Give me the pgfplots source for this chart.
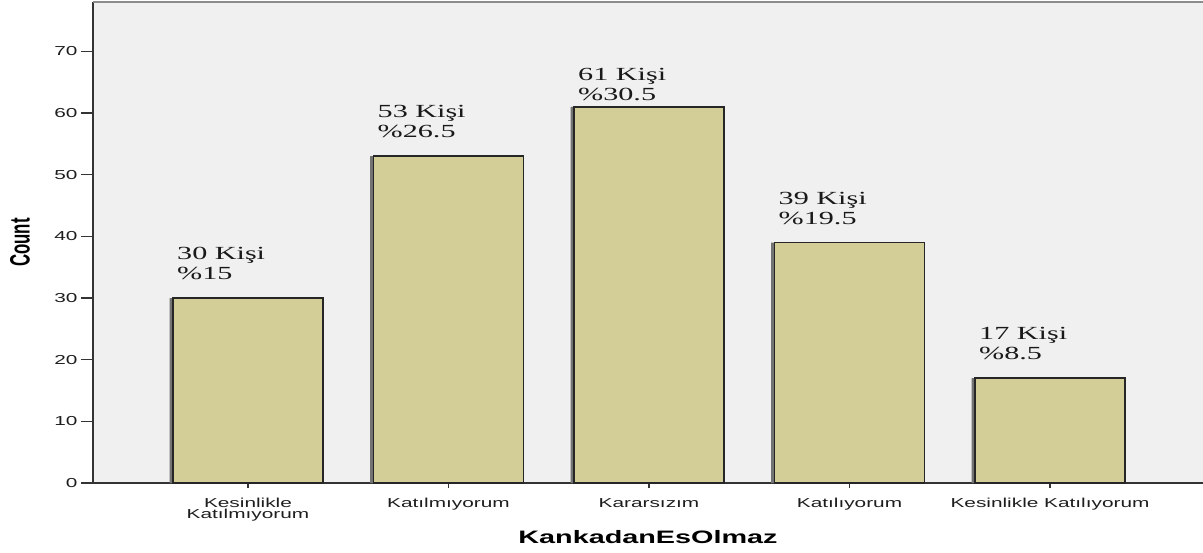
\documentclass[border=0pt]{standalone}
\usepackage{pgfplots}
\pgfplotsset{compat=1.18}
\usepackage{fontspec}
\setmainfont{Liberation Serif}
\newfontfamily\wsans[FakeStretch=1.6]{Liberation Sans}
\newfontfamily\wserif[FakeStretch=1.63]{Liberation Serif}
\newfontfamily\nsans[FakeStretch=0.6]{Liberation Sans}
\definecolor{barfill}{RGB}{211,206,151}
\definecolor{bgc}{RGB}{240,240,240}
\definecolor{txt}{RGB}{30,30,30}

\begin{document}
\begin{tikzpicture}
\begin{axis}[name=ax, scale only axis, width=1110pt, height=481pt,
  xmin=-0.773, xmax=4.763, ymin=0, ymax=78,
  axis x line*=bottom, axis y line*=left,
  axis line style={draw=black!80, line width=1.5pt},
  axis background/.style={fill=bgc},
  ybar, bar width=0.748,
  xtick={0,...,4},
  xticklabels={{Kesinlikle\\Katılmıyorum},Katılmıyorum,Kararsızım,Katılıyorum,Kesinlikle Katılıyorum},
  ytick={0,10,...,70},
  tick align=outside, major tick length=12pt,
  tick style={draw=black!80, line width=1.5pt},
  xtick style={/pgfplots/major tick length=5pt},
  /pgf/number format/assume math mode=true,
  yticklabel style={font=\wsans\fontsize{13}{13}\selectfont, text=txt},
  xticklabel style={font=\wsans\fontsize{13}{11}\selectfont, text=txt, align=center},
  ylabel={Count}, xlabel={KankadanEsOlmaz},
  every axis y label/.style={at={(axis description cs:0,0.5)}, xshift=-73pt, rotate=90, anchor=center,
    font=\nsans\bfseries\fontsize{28}{28}\selectfont},
  every axis x label/.style={at={(axis description cs:0.5,0)}, yshift=-60pt, anchor=base,
    font=\wsans\bfseries\fontsize{18}{18}\selectfont},
  lab/.style={draw=none, fill=none, bar shift=0pt, point meta=explicit symbolic, nodes near coords,
    every node near coord/.append style={anchor=south west, align=left, inner sep=0pt,
      xshift=-71pt, yshift=#1, font=\wserif\fontsize{18.5}{20}\selectfont, text=black!90}},
]
% shadow on the left side of each bar
\addplot[fill=black!55, draw=none, bar shift=-3.5pt] coordinates {(0,30) (1,53) (2,61) (3,39) (4,17)};
\addplot[fill=barfill, draw=black!85, line width=1.5pt, bar shift=0pt]
  coordinates {(0,30) (1,53) (2,61) (3,39) (4,17)};
% labels
\addplot[lab=18pt] coordinates {
  (0,30) [30 Kişi\\\%15]
  (1,53) [53 Kişi\\\%26.5]
  (3,39) [39 Kişi\\\%19.5]
  (4,17) [17 Kişi\\\%8.5]
  };
\addplot[lab=6pt] coordinates {(2,61) [61 Kişi\\\%30.5]};
\end{axis}
\draw[black!45, line width=1.5pt] (ax.north west) -- (ax.north east);
\pgfresetboundingbox
\path[use as bounding box] ([xshift=-93pt,yshift=-69pt]ax.south west) rectangle ([yshift=2pt]ax.north east);
\end{tikzpicture}
\end{document}
